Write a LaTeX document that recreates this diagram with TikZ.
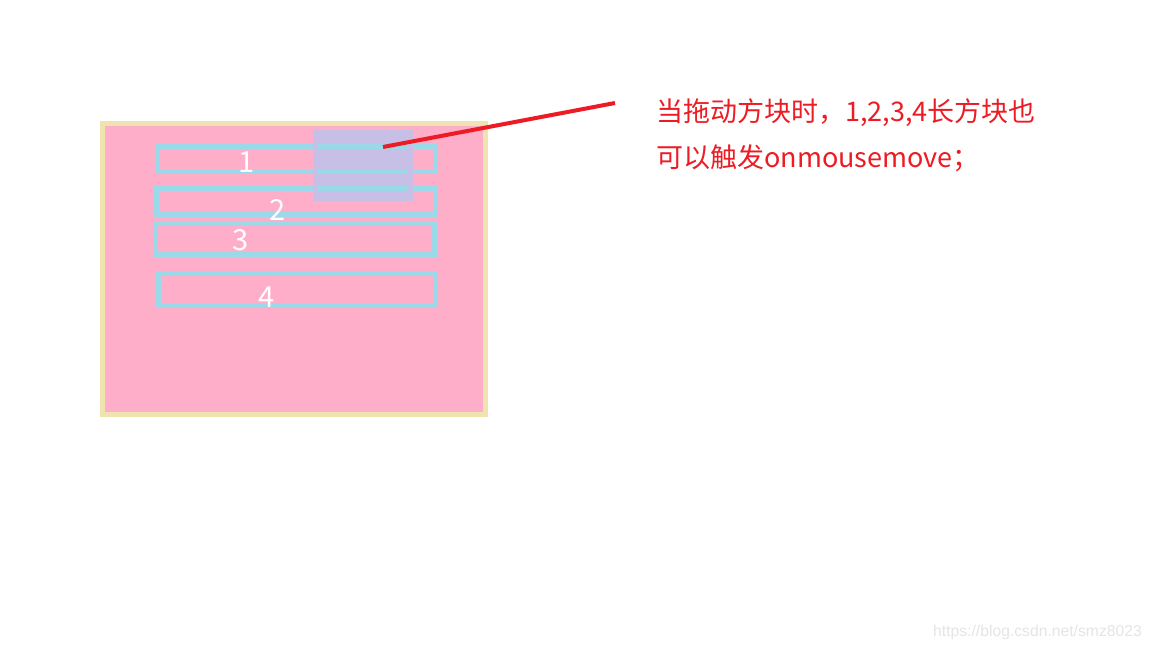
\documentclass[tikz,border=0pt]{standalone}
\usepackage{fontspec}
\newfontfamily\cjk{Noto Sans CJK SC}
\newfontfamily\wm{Liberation Sans}
\definecolor{pinkfill}{HTML}{FFAEC9}
\definecolor{cream}{HTML}{EFE4B0}
\definecolor{turq}{HTML}{99D9EA}
\definecolor{lav}{HTML}{C8BFE7}
\definecolor{pred}{HTML}{ED1C24}
\begin{document}
\begin{tikzpicture}[x=1pt,y=-1pt,
  box/.style={draw=turq,line width=5pt,inner sep=0pt,outer sep=0pt},
  num/.style={text=white,font=\cjk\fontsize{29}{29}\selectfont,inner sep=0pt},
  note/.style={text=pred,font=\cjk\fontsize{27}{27}\selectfont,inner sep=0pt,anchor=base west}]
\useasboundingbox[fill=white] (0,0) rectangle (1152,648);
% outer panel
\node[draw=cream,fill=pinkfill,line width=5pt,inner sep=0pt,minimum width=383pt,minimum height=291pt] (panel) at (294,269) {};
% four long boxes
\node[box,minimum width=278pt,minimum height=25pt] (r1) at (296.5,159) {};
\node[box,minimum width=279pt,minimum height=26pt] (r2) at (296,201.5) {};
\node[box,minimum width=279pt,minimum height=31pt] (r3) at (295,239) {};
\node[box,minimum width=277pt,minimum height=32pt] (r4) at (297,289.5) {};
% dragged block
\node[fill=lav,inner sep=0pt,minimum width=100pt,minimum height=71pt] (blk) at (363,165.5) {};
\draw[turq,line width=5pt] (318,146.5) -- (408,146.5);
\draw[turq,line width=5pt] (318,171.5) -- (408,171.5);
\draw[turq,line width=5pt] (318,188.5) -- (408,188.5);
% labels
\node[num] (n1) at (247,162) {1};
\node[num] (n2) at (278,210) {2};
\node[num] (n3) at (241,240) {3};
\node[num] (n4) at (267,297) {4};
% pointer
\coordinate (ps) at (383,147);
\coordinate (pe) at (615,103);
\draw[pred,line width=4pt] (ps) -- (pe);
% note
\node[note] (t1) at (656,121) {当拖动方块时，1,2,3,4长方块也};
\node[note] (t2) at (656,167) {可以触发onmousemove；};
% watermark
\node[text=black!10,font=\wm\fontsize{15.7}{15.7}\selectfont,anchor=base west,inner sep=0pt] (wmk) at (933,636) {https://blog.csdn.net/smz8023};
\end{tikzpicture}
\end{document}
